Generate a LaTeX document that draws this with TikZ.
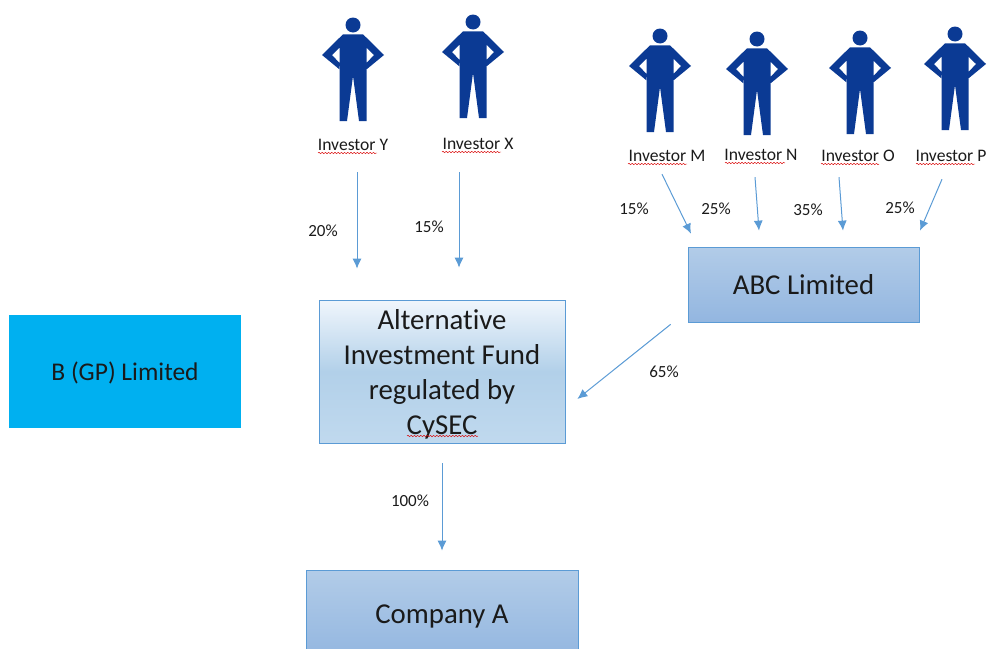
\documentclass[tikz,border=0pt]{standalone}
\usepackage{fontspec}
\setmainfont{Carlito}[Ligatures=CommonOff]
\usetikzlibrary{arrows.meta,decorations.pathmorphing}
\definecolor{figblue}{HTML}{0B3A94}
\definecolor{linkblue}{HTML}{5B9BD5}
\definecolor{inktext}{HTML}{1A1A1A}
\definecolor{gpblue}{HTML}{00B0F0}
\definecolor{midtop}{RGB}{178,204,232}
\definecolor{midbottom}{RGB}{147,182,224}
\tikzset{
  flow/.style={draw=linkblue, line width=1pt, -{Latex[length=10pt,width=9pt]}},
  squig/.style={draw=red!85!black, line width=0.45pt, decorate, decoration={snake, amplitude=0.7pt, segment length=3.2pt}},
  invlabel/.style={inner sep=0pt, minimum width=80pt, minimum height=18pt, text=inktext, font=\fontsize{17.6}{18}\selectfont},
  pct/.style={inner sep=0pt, text=inktext, font=\fontsize{17}{18}\selectfont},
  boxtext/.style={inner sep=0pt, text=inktext, align=center, font=\fontsize{28.8}{35}\selectfont},
  midbox/.style={boxtext, draw=linkblue, line width=0.7pt, top color=midtop, bottom color=midbottom},
  person/.pic={
    \fill [figblue] (0,0) circle (7.5);
    \fill [figblue] (-10,9.3) -- (10,9.3) -- (31,30) -- (14,44) -- (13.5,38) -- (21,30) -- (13.5,22.6)
      -- (13.5,96) -- (6,96) -- (0,51) -- (-6,96) -- (-13.5,96) -- (-13.5,22.6) -- (-21,30)
      -- (-13.5,38) -- (-14,44) -- (-31,30) -- cycle;
  }
}
\begin{document}
\begin{tikzpicture}[x=1pt, y=-1pt]
    \useasboundingbox (0,0) rectangle (987,648);

    \pic at (353,25) {person};
    \pic at (473,22) {person};
    \pic at (660,36) {person};
    \pic at (757,39) {person};
    \pic at (860,38) {person};
    \pic at (955,34) {person};

    \node [invlabel] (invY) at (353,145) {Investor Y};
    \node [invlabel] (invX) at (478,144) {Investor X};
    \node [invlabel] (invM) at (667,156) {Investor M};
    \node [invlabel] (invN) at (761,155) {Investor N};
    \node [invlabel] (invO) at (858,156) {Investor O};
    \node [invlabel] (invP) at (951,156) {Investor P};

    \node [boxtext, minimum width=232pt, minimum height=113pt, fill=gpblue, text height=22pt, font=\fontsize{25.5}{35}\selectfont] (gp) at (125,371.5) {B (GP) Limited};
    \node [boxtext, draw=linkblue, line width=0.7pt, minimum width=246pt, minimum height=143pt, text height=131pt,
           top color={rgb,255:red,240;green,246;blue,252}, bottom color={rgb,255:red,192;green,217;blue,238},
           middle color={rgb,255:red,178;green,208;blue,233}] (fund) at (442,371.5) {Alternative\\Investment Fund\\regulated by\\CySEC};
    \node [midbox, minimum width=231pt, minimum height=75pt, text height=20.5pt] (abc) at (803.5,284.5) {ABC Limited};
    \node [midbox, minimum width=272pt, minimum height=88pt, text height=23pt] (compA) at (442,614) {Company A};

    \draw [flow] ([shift={(4,18)}]invY.south) -- ([shift={(-85,-31)}]fund.north);
    \draw [flow] ([shift={(-19,19)}]invX.south) -- ([shift={(17,-32)}]fund.north);
    \draw [flow] ([shift={(-5,9)}]invM.south) -- ([shift={(-112.5,-13)}]abc.north);
    \draw [flow] ([shift={(-6,13)}]invN.south) -- ([shift={(-44.5,-16)}]abc.north);
    \draw [flow] ([shift={(-19,12)}]invO.south) -- ([shift={(39.5,-16)}]abc.north);
    \draw [flow] ([shift={(-9,14)}]invP.south) -- ([shift={(116.5,-16)}]abc.north);
    \draw [flow] ([shift={(-17,2)}]abc.south west) -- ([shift={(12,27.5)}]fund.east);
    \draw [flow] ([shift={(0,20)}]fund.south) -- ([shift={(0,-19)}]compA.north);

    \node [pct] (pY) at (323,231) {20\%};
    \node [pct] (pX) at (429,227) {15\%};
    \node [pct] (pM) at (634,209) {15\%};
    \node [pct] (pN) at (716,209) {25\%};
    \node [pct] (pO) at (808,210) {35\%};
    \node [pct] (pP) at (900,208) {25\%};
    \node [pct] (pABC) at (664,372) {65\%};
    \node [pct] (pA) at (410,501) {100\%};

    \draw [squig] (318,153) -- (377,153);
    \draw [squig] (442,152) -- (501,152);
    \draw [squig] (628,164) -- (687,164);
    \draw [squig] (725,163) -- (785,163);
    \draw [squig] (821,164) -- (879,164);
    \draw [squig] (916,164) -- (975,164);
    \draw [squig] (407,436) -- (478,436);
\end{tikzpicture}
\end{document}
